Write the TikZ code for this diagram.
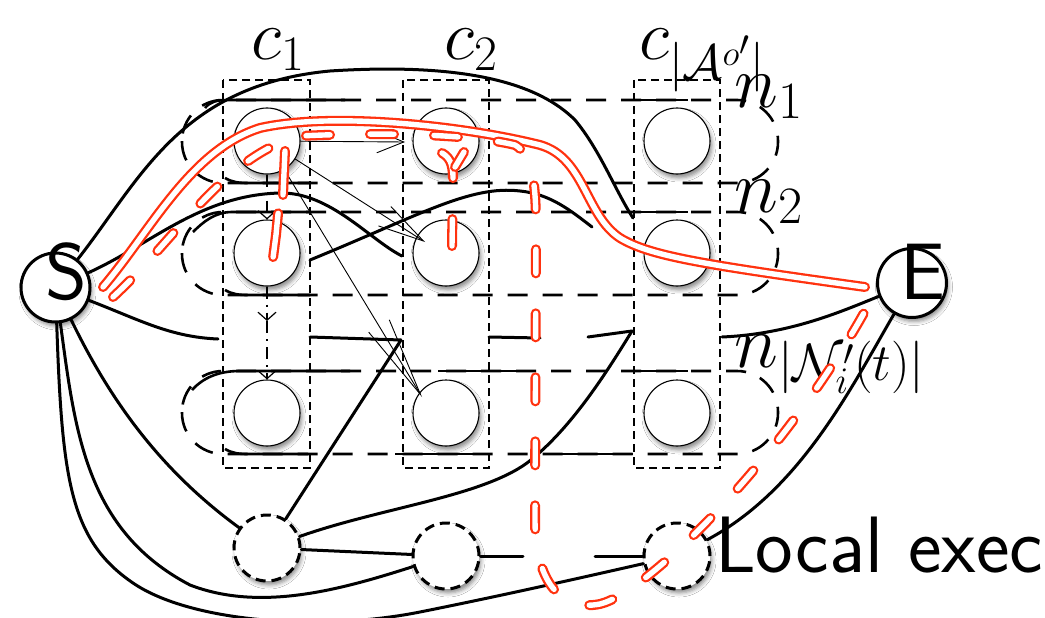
\documentclass[tikz,border=0pt]{standalone}
\usepackage{fix-cm}
\usetikzlibrary{arrows.meta,shadows.blur}
\definecolor{routered}{RGB}{255,50,15}
\newcommand{\bigsf}{\fontsize{80}{80}\selectfont\sffamily}
\newcommand{\collabel}{\fontsize{71}{71}\selectfont}
\newcommand{\rowlabel}{\fontsize{75}{75}\selectfont}
\begin{document}
\begin{tikzpicture}[x=1pt,y=-1pt,
  softshadow/.style={blur shadow={shadow xshift=2pt,shadow yshift=-4pt,shadow blur radius=4pt,shadow opacity=45}},
  cell/.style={circle,minimum size=66pt,inner sep=0pt,draw=black,line width=1.1pt,fill=white,softshadow},
  endpoint/.style={circle,minimum size=69pt,inner sep=0pt,draw=black,line width=3pt,fill=white,softshadow},
  localnode/.style={circle,minimum size=66pt,inner sep=0pt,draw=black,line width=3pt,dash pattern=on 10pt off 6pt,fill=white,softshadow},
  colbox/.style={draw=black,line width=2pt,dash pattern=on 8pt off 5pt},
  rowband/.style={draw=black,line width=2.6pt,dash pattern=on 20pt off 15pt,rounded corners=41pt},
  rowline/.style={draw=black,line width=2.6pt},
  link/.style={draw=black,line width=3pt,line cap=round},
  hint/.style={draw=black,line width=0.9pt},
  chain/.style={draw=black,line width=1.2pt,dash pattern=on 12pt off 6pt on 2pt off 6pt,-{Straight Barb[length=8pt,width=18pt]}},
  route/.style={draw=routered,line width=2.3pt,double=white,double distance=5.4pt,line cap=round,line join=round},
  routedash/.style={route,dash pattern=on 24pt off 40pt},
]
\useasboundingbox (0,0) rectangle (1045,618);
\fill[white] (0,0) rectangle (1045,618);

% row bands n_1 ... n_|N|
\foreach \yt in {100,212,371} \draw[rowband] (182,\yt) rectangle (778,\yt+83);
% solid stretches along the band borders
\draw[rowline] (205,108) .. controls (210,102) and (216,100) .. (228,100) -- (345,100);
\draw[rowline] (634,100) -- (688,100);
\draw[rowline] (193,232) .. controls (203,222) and (215,212) .. (232,212) -- (310,212);
\draw[rowline] (634,212) -- (688,212);
\draw[rowline] (192,390) .. controls (203,378) and (218,371) .. (240,371) -- (350,371);
\draw[rowline] (438,371) -- (520,371);
\draw[rowline] (634,371) -- (688,371);
\draw[rowline] (225,178) .. controls (232,182) and (238,183) .. (248,183) -- (310,183);
\draw[rowline] (225,290) .. controls (232,294) and (238,295) .. (248,295) -- (310,295);
\draw[rowline] (225,449) .. controls (232,453) and (238,454) .. (248,454) -- (308,454);
\draw[rowline] (395,454) -- (477,454);
\draw[rowline] (562,454) -- (633,454);

% column boxes c_1 ... c_|A|
\draw[colbox] (223,80) rectangle (310,468);
\draw[colbox] (403,80) rectangle (489,468);
\draw[colbox] (634,80) rectangle (720,468);

% labels
\node[anchor=base west,font=\collabel,inner sep=0pt] (lc1) at (251,60) {$c_1$};
\node[anchor=base west,font=\collabel,inner sep=0pt] (lc2) at (444,60) {$c_2$};
\node[anchor=base west,font=\collabel,inner sep=0pt] (lc3) at (639,60) {$c_{|\mathcal{A}^{o'}|}$};
\node[anchor=base west,font=\rowlabel,inner sep=0pt] (ln1) at (734,107) {$n_1$};
\node[anchor=base west,font=\rowlabel,inner sep=0pt] (ln2) at (734,212) {$n_2$};
\node[anchor=base west,font=\rowlabel,inner sep=0pt] (ln3) at (734,367) {$n_{|\mathcal{N}_i'(t)|}$};

% grid of cells g<column><row>
\foreach \c/\x in {1/267,2/446,3/677} {
  \foreach \r/\y in {1/141,2/253,3/413} {
    \node[cell] (g\c\r) at (\x,\y) {};
  }
}

% start, end and local execution nodes
\node[endpoint,label={[font=\bigsf,inner sep=0pt,shift={(11,-16)}]center:S}] (S) at (55.5,287.5) {};
\node[endpoint,label={[font=\bigsf,inner sep=0pt,shift={(11,-11)}]center:E}] (E) at (912,283) {};
\node[localnode] (L1) at (267,548) {};
\node[localnode] (L2) at (446,556) {};
\node[localnode] (L3) at (677,556) {};
\node[anchor=base west,font=\bigsf,inner sep=0pt] (lex) at (715,572) {Local exec};

% loose ends of the links
\coordinate (k1) at (633,218);
\coordinate (k2) at (402,256);
\coordinate (k3) at (310,260);
\coordinate (k4) at (592,227);
\coordinate (k5) at (218,339);
\coordinate (h1a) at (310,337);
\coordinate (h1b) at (401,340);
\coordinate (h2a) at (489,337);
\coordinate (h2b) at (540,338);
\coordinate (h3a) at (588,337);
\coordinate (h3b) at (632,331);
\coordinate (j1) at (523,556);
\coordinate (j2) at (595,556);
\coordinate (e1) at (722,337);

% links
\draw[link] (S) .. controls (140,180) and (180,85) .. (330,71) .. controls (470,62) and (540,85) .. (575,120) .. controls (600,150) and (615,190) .. (k1);
\draw[link] (S) .. controls (150,245) and (200,195) .. (280,193) .. controls (330,192) and (370,240) .. (k2);
\draw[link] (k3) .. controls (420,215) and (470,185) .. (520,191) .. controls (550,194) and (570,210) .. (k4);
\draw[link] (S) .. controls (140,320) and (170,337) .. (k5);
\draw[link] (h1a) -- (h1b);
\draw[link] (h2a) -- (h2b);
\draw[link] (h3a) -- (h3b);
\draw[link] (h1b) -- (L1);
\draw[link] (L1) .. controls (380,508) and (480,497) .. (527,463) .. controls (570,430) and (605,375) .. (h3b);
\draw[link] (L1) -- (L2);
\draw[link] (L2) -- (j1);
\draw[link] (j2) -- (L3);
\draw[link] (S) .. controls (110,400) and (160,470) .. (L1);
\draw[link] (S) .. controls (75,430) and (85,530) .. (190,585) .. controls (260,612) and (340,590) .. (L2);
\draw[link] (S) .. controls (62,480) and (70,540) .. (133,583) .. controls (190,622) and (320,632) .. (420,612) .. controls (500,596) and (580,578) .. (L3);
\draw[link] (E) .. controls (840,312) and (790,334) .. (e1);
\draw[link] (E) .. controls (850,390) and (800,490) .. (L3);

% dependency hints from the first cell
\coordinate (t1) at (405,142);
\coordinate (t2) at (425,242);
\coordinate (t3) at (422,397);
\draw[hint,-{Straight Barb[length=27pt,width=22pt]}] (g11) -- (t1);
\draw[hint,-{Straight Barb[length=46pt,width=23pt]}] (g11) -- (t2);
\draw[hint,-{Straight Barb[length=80pt,width=24pt]}] (g11) -- (t3);
\coordinate (m1) at (267,321);
\draw[chain] (g11) -- (g12);
\draw[chain] (g12) -- (m1);
\draw[chain] (m1) -- (g13);

% highlighted routes
\coordinate (r0) at (103,287);
\coordinate (r1) at (865,287);
\draw[route] (r0) .. controls (150,232) and (190,150) .. (260,128) .. controls (330,112) and (460,125) .. (540,145) .. controls (585,158) and (585,215) .. (620,238) .. controls (650,256) and (700,264) .. (r1);
\coordinate (d0) at (113,297);
\coordinate (d1) at (870,302);
\draw[routedash] (d0) .. controls (175,240) and (225,155) .. (300,136) .. controls (380,132) and (470,134) .. (515,145) .. controls (533,155) and (536,185) .. (536,230) -- (535,520) .. controls (535,580) and (560,612) .. (600,604) .. controls (650,592) and (790,450) .. (d1);
\draw[route,dash pattern=on 44pt off 19pt] (285,151) -- (283,195) -- (278,214) -- (276,235) -- (273,258);
\draw[route,dash pattern=on 29pt off 41pt on 30pt off 60pt] (442,153) .. controls (449,157) and (453,163) .. (453,178) -- (452,246);
\draw[route] (464,152) -- (455,167);
\end{tikzpicture}
\end{document}
